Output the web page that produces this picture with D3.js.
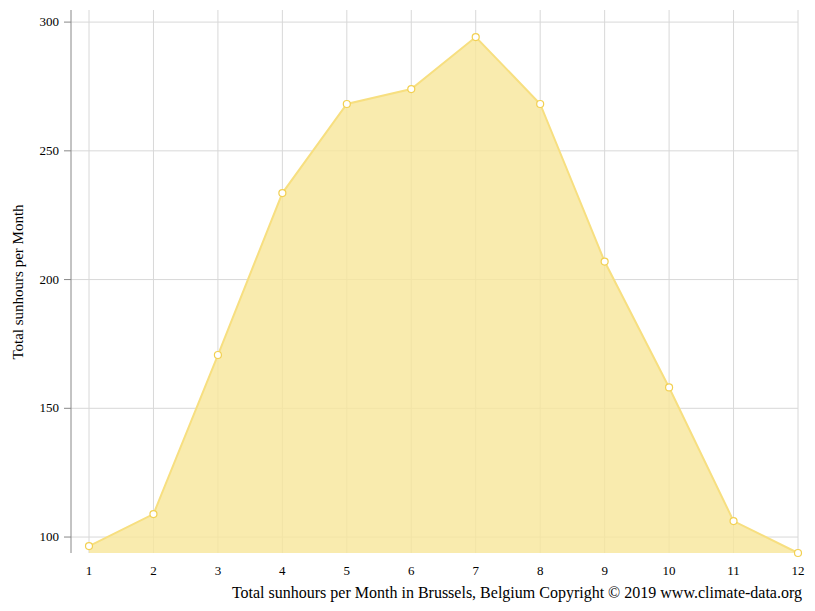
<!DOCTYPE html>
<html>
<head>
<meta charset="utf-8">
<script src="https://cdn.jsdelivr.net/npm/d3@7"></script>
<style>
  body { margin: 0; background: #fff; }
  text { font-family: "Liberation Serif", serif; }
</style>
</head>
<body>
<svg id="chart" width="815" height="611"></svg>
<script>
const months = [1, 2, 3, 4, 5, 6, 7, 8, 9, 10, 11, 12]
const sunhours = [96.5, 108.9, 170.7, 233.6, 268.2, 274.0, 294.2, 268.2, 207.0, 158.1, 106.2, 93.8]
const yTicks = [100, 150, 200, 250, 300]

const svg = d3.select('#chart')
const plotLeft = 71, plotRight = 798, plotTop = 10, plotBottom = 553

const x = d3.scaleLinear().domain([1, 12]).range([89, plotRight])
const y = d3.scaleLinear().domain([93.8, 304.7]).range([plotBottom, plotTop])

// grid
svg.append('g')
  .selectAll('line')
  .data(yTicks)
  .enter()
  .append('line')
  .attr('x1', plotLeft).attr('x2', plotRight)
  .attr('y1', d => y(d)).attr('y2', d => y(d))
  .attr('stroke', '#d8d8d8')

svg.append('g')
  .selectAll('line')
  .data(months)
  .enter()
  .append('line')
  .attr('x1', d => x(d)).attr('x2', d => x(d))
  .attr('y1', plotTop).attr('y2', plotBottom)
  .attr('stroke', '#d8d8d8')

// area
const area = d3.area()
  .x((d, i) => x(months[i]))
  .y0(plotBottom)
  .y1(d => y(d))
svg.append('path')
  .datum(sunhours)
  .attr('d', area)
  .attr('fill', '#f8e69a')
  .attr('fill-opacity', 0.8)

const line = d3.line()
  .x((d, i) => x(months[i]))
  .y(d => y(d))
svg.append('path')
  .datum(sunhours)
  .attr('d', line)
  .attr('fill', 'none')
  .attr('stroke', '#f7df80')
  .attr('stroke-width', 2)

svg.append('g')
  .selectAll('circle')
  .data(sunhours)
  .enter()
  .append('circle')
  .attr('cx', (d, i) => x(months[i]))
  .attr('cy', d => y(d))
  .attr('r', 3.5)
  .attr('fill', '#fff')
  .attr('stroke', '#f2d052')
  .attr('stroke-width', 1.2)

// y axis
svg.append('line')
  .attr('x1', plotLeft).attr('x2', plotLeft)
  .attr('y1', plotTop).attr('y2', plotBottom)
  .attr('stroke', '#888')

const yt = svg.append('g')
  .selectAll('g')
  .data(yTicks)
  .enter()
  .append('g')
yt.append('line')
  .attr('x1', plotLeft - 7).attr('x2', plotLeft)
  .attr('y1', d => y(d)).attr('y2', d => y(d))
  .attr('stroke', '#888')
yt.append('text')
  .attr('x', plotLeft - 12)
  .attr('y', d => y(d) + 4)
  .attr('text-anchor', 'end')
  .attr('font-size', 13)
  .text(d => d)

svg.append('g')
  .selectAll('text')
  .data(months)
  .enter()
  .append('text')
  .attr('x', d => x(d))
  .attr('y', 575)
  .attr('text-anchor', 'middle')
  .attr('font-size', 13)
  .text(d => d)

svg.append('text')
  .attr('transform', 'translate(23,282) rotate(-90)')
  .attr('text-anchor', 'middle')
  .attr('font-size', 15)
  .text('Total sunhours per Month')

svg.append('text')
  .attr('x', 802)
  .attr('y', 598)
  .attr('text-anchor', 'end')
  .attr('font-size', 16)
  .text('Total sunhours per Month in Brussels, Belgium Copyright © 2019 www.climate-data.org')
</script>
</body>
</html>
